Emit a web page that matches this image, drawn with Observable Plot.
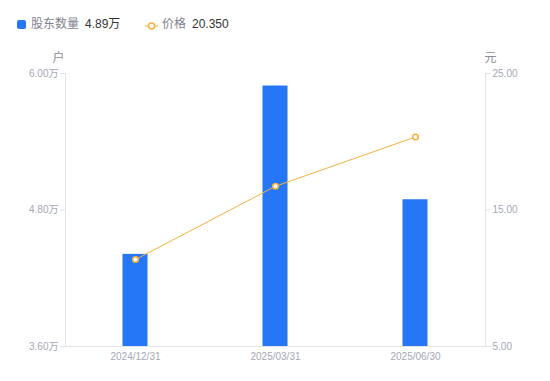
<!DOCTYPE html>
<html>
<head>
<meta charset="utf-8">
<script src="https://cdn.jsdelivr.net/npm/d3@7"></script>
<script src="https://cdn.jsdelivr.net/npm/@observablehq/plot@0.6"></script>
<style>
  body { margin: 0; background: #fff; font-family: "Liberation Sans", Arial, "Noto Sans CJK SC", sans-serif; }
  #legend { position: relative; width: 550px; height: 48px; font-size: 12px; }
  #legend span { position: absolute; top: 16px; line-height: 16px; white-space: nowrap; }
  .lab { color: #7f828f; }
  .val { color: #333; }
</style>
</head>
<body>
<div id="legend">
  <span style="left:17px;top:20px;width:9px;height:9px;border-radius:2px;background:#2577f5;"></span>
  <span class="lab" style="left:31px;">股东数量</span>
  <span class="val" style="left:85px;" id="v1"></span>
  <span style="left:145px;top:19px;width:13px;height:10px;">
    <svg width="13" height="10"><line x1="0" y1="5" x2="13" y2="5" stroke="#f5b13d" stroke-width="1"/><circle cx="6.5" cy="5" r="3" fill="#fff" stroke="#f5b13d" stroke-width="1.5"/></svg>
  </span>
  <span class="lab" style="left:162px;">价格</span>
  <span class="val" style="left:192px;" id="v2"></span>
</div>
<div id="chart"></div>
<script>
const dates = ["2024/12/31", "2025/03/31", "2025/06/30"];
const holders = [4.41, 5.89, 4.89];   // 万户
const prices = [11.37, 16.74, 20.35]; // 元
const leftTicks = [3.6, 4.8, 6.0];
const rightTicks = [5, 15, 25];

document.getElementById("v1").textContent = holders[holders.length - 1].toFixed(2) + "万";
document.getElementById("v2").textContent = prices[prices.length - 1].toFixed(3);

const toY = d3.scaleLinear([5, 25], [3.6, 6.0]);
const data = dates.map((d, i) => ({date: d, holders: holders[i], price: prices[i]}));

const axisColor = "#e3e4ea";
const tickText = "#a4a7b5";
const orange = "#f5b13d";

const chart = Plot.plot({
  width: 550,
  height: 333,
  marginTop: 25,
  marginBottom: 35,
  marginLeft: 65,
  marginRight: 65,
  style: {fontFamily: '"Liberation Sans", Arial, "Noto Sans CJK SC", sans-serif', fontSize: "10px", background: "#fff"},
  x: {domain: dates, padding: 0},
  y: {domain: [3.6, 6.0]},
  marks: [
    Plot.barY(data, {x: "date", y1: 3.6, y2: "holders", fill: "#2577f5", insetLeft: 57.5, insetRight: 57.5}),
    Plot.frame({anchor: "left", stroke: axisColor}),
    Plot.frame({anchor: "right", stroke: axisColor}),
    Plot.ruleY([3.6], {stroke: axisColor}),
    Plot.axisY(leftTicks, {anchor: "left", tickSize: 5, tickPadding: 2, stroke: axisColor, fill: tickText, label: null,
      tickFormat: d => d.toFixed(2) + "万"}),
    Plot.axisY(rightTicks.map(toY), {anchor: "right", tickSize: 5, tickPadding: 2, stroke: axisColor, fill: tickText, label: null,
      tickFormat: d => toY.invert(d).toFixed(2)}),
    Plot.axisX({tickSize: 0, tickPadding: 6, fill: tickText, label: null}),
    Plot.line(data, {x: "date", y: d => toY(d.price), stroke: orange, strokeWidth: 1}),
    Plot.dot(data, {x: "date", y: d => toY(d.price), r: 2.8, fill: "#fff", stroke: orange, strokeWidth: 1.5}),
    Plot.text(["户"], {frameAnchor: "top-left", textAnchor: "end", dx: -1, dy: -20, fill: "#8a8d99", fontSize: 12}),
    Plot.text(["元"], {frameAnchor: "top-right", textAnchor: "start", dx: -1, dy: -20, fill: "#8a8d99", fontSize: 12})
  ]
});
document.getElementById("chart").appendChild(chart);
</script>
</body>
</html>
